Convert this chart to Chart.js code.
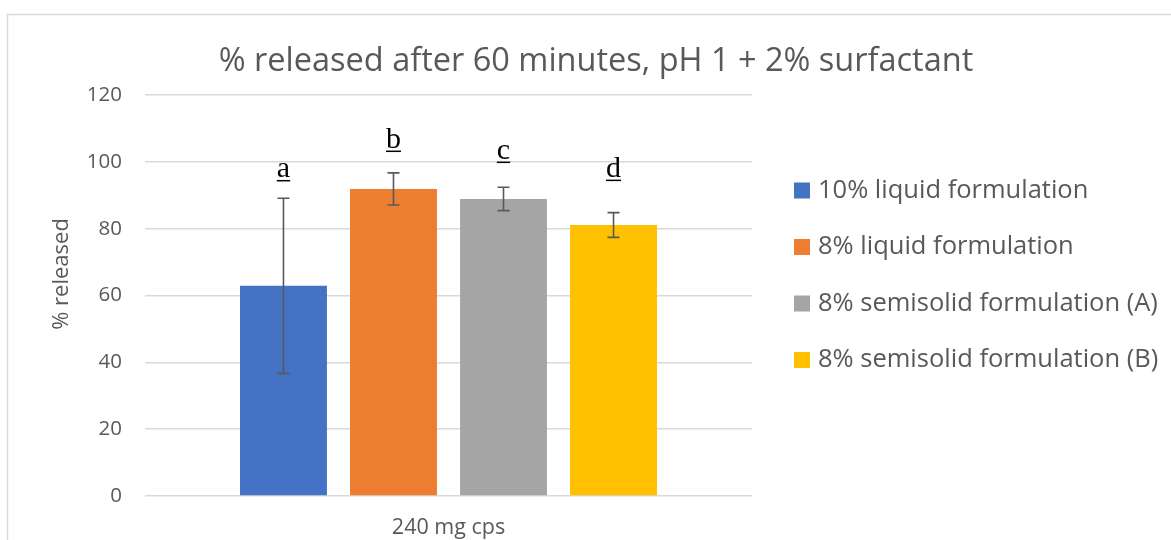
<!DOCTYPE html>
<html lang="en">

<head>
  <meta charset="UTF-8">
  <title>% released after 60 minutes</title>
  <script src="https://cdn.jsdelivr.net/npm/chart.js"></script>
  <style>
    body { margin: 0; background: #ffffff; }
  </style>
</head>

<body>

  <canvas id="releaseChart" width="1171" height="540"></canvas>

<script>

  // values
  const categories = ['240 mg cps'];
  const seriesNames = ['10% liquid formulation', '8% liquid formulation', '8% semisolid formulation (A)', '8% semisolid formulation (B)'];
  const releasedMeans = [62.9, 91.9, 88.9, 81.1];
  const releasedErrors = [26.2, 4.8, 3.5, 3.7];
  const groupLetters = ['a', 'b', 'c', 'd'];
  const letterLevels = [95.4, 104.2, 100.9, 95.5];
  const yMin = 0;
  const yMax = 120;
  const yStep = 20;

  const seriesColors = ['#4472c4', '#ed7d31', '#a5a5a5', '#ffc000'];
  const textGray = '#595959';
  const gridGray = '#d9d9d9';
  const sans = "'Open Sans', sans-serif";

  // one dataset per formulation, all under the single category
  let datasets = [];
  for (let i = 0; i < seriesNames.length; i++) {
    datasets.push({
      label: seriesNames[i],
      data: [releasedMeans[i]],
      errors: [releasedErrors[i]],
      backgroundColor: seriesColors[i],
      categoryPercentage: 0.725,
      barPercentage: 0.79
    });
  }

  // draws the frame, error bars, letters, title, axis title and legend
  const extras = {
    id: 'extras',
    beforeDraw(chart) {
      const ctx = chart.ctx;
      ctx.save();
      ctx.strokeStyle = gridGray;
      ctx.lineWidth = 1.5;
      ctx.strokeRect(7.5, 14.5, 1300, 700);
      ctx.restore();
    },
    afterDatasetsDraw(chart) {
      const ctx = chart.ctx;
      const yScale = chart.scales.y;
      ctx.save();
      chart.data.datasets.forEach(function (ds, i) {
        const bar = chart.getDatasetMeta(i).data[0];
        const v = ds.data[0];
        const err = ds.errors[0];
        const top = yScale.getPixelForValue(v + err);
        const bottom = yScale.getPixelForValue(v - err);
        ctx.strokeStyle = textGray;
        ctx.lineWidth = 1.6;
        ctx.beginPath();
        ctx.moveTo(bar.x, top);
        ctx.lineTo(bar.x, bottom);
        ctx.moveTo(bar.x - 6, top);
        ctx.lineTo(bar.x + 6, top);
        ctx.moveTo(bar.x - 6, bottom);
        ctx.lineTo(bar.x + 6, bottom);
        ctx.stroke();

        // significance letter, underlined
        const ly = yScale.getPixelForValue(letterLevels[i]);
        ctx.font = "30px 'Liberation Serif', serif";
        ctx.fillStyle = '#000000';
        ctx.textAlign = 'center';
        ctx.textBaseline = 'alphabetic';
        ctx.fillText(groupLetters[i], bar.x, ly);
        const w = ctx.measureText(groupLetters[i]).width;
        ctx.strokeStyle = '#000000';
        ctx.lineWidth = 1.5;
        ctx.beginPath();
        ctx.moveTo(bar.x - w / 2, ly + 3.5);
        ctx.lineTo(bar.x + w / 2, ly + 3.5);
        ctx.stroke();
      });
      ctx.restore();
    },
    afterDraw(chart) {
      const ctx = chart.ctx;
      ctx.save();
      ctx.fillStyle = textGray;

      // title
      ctx.font = '32.5px ' + sans;
      ctx.textAlign = 'center';
      ctx.textBaseline = 'alphabetic';
      ctx.fillText('% released after 60 minutes, pH 1 + 2% surfactant', 596, 71);

      // y axis title
      ctx.save();
      ctx.translate(62, 274);
      ctx.rotate(-Math.PI / 2);
      ctx.font = '22px ' + sans;
      ctx.textBaseline = 'middle';
      ctx.fillText('% released', 0, 0);
      ctx.restore();

      // legend
      ctx.font = '25.5px ' + sans;
      ctx.textAlign = 'left';
      ctx.textBaseline = 'middle';
      chart.data.datasets.forEach(function (ds, i) {
        const y = 190.5 + i * 56.5;
        ctx.fillStyle = ds.backgroundColor;
        ctx.fillRect(794, y - 8, 16, 16);
        ctx.fillStyle = textGray;
        ctx.fillText(ds.label, 818, y);
      });
      ctx.restore();
    }
  };

  const config = {
    type: 'bar',
    data: {
      labels: categories,
      datasets: datasets
    },
    options: {
      responsive: false,
      animation: false,
      layout: {
        padding: { top: 95, right: 419, bottom: 0, left: 0 }
      },
      plugins: {
        legend: { display: false },
        title: { display: false },
        tooltip: { enabled: false }
      },
      scales: {
        x: {
          grid: { display: false, drawTicks: false },
          border: { display: false },
          ticks: { color: textGray, font: { family: sans, size: 21.5 }, padding: 19 },
          afterFit(scale) { scale.height = 44; }
        },
        y: {
          min: yMin,
          max: yMax,
          ticks: { stepSize: yStep, color: textGray, font: { family: sans, size: 20.5 }, padding: 23 },
          grid: { color: gridGray, lineWidth: 1.5, drawTicks: false },
          border: { display: false },
          afterFit(scale) { scale.width = 145; }
        }
      }
    },
    plugins: [extras]
  };

  let releaseChart = new Chart(
    document.getElementById('releaseChart'),
    config
  );

</script>

</body>

</html>
